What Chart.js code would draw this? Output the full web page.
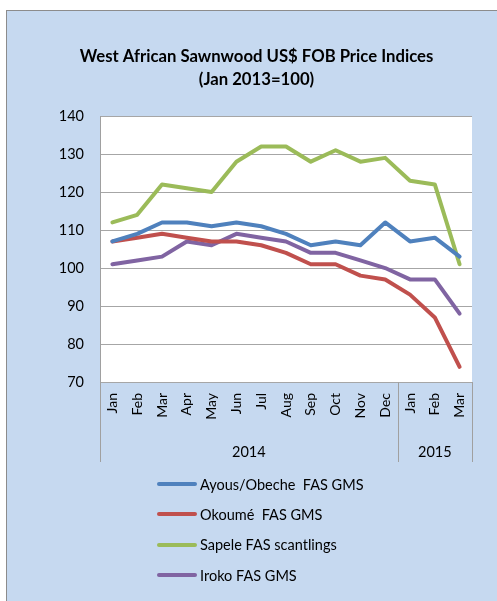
<!DOCTYPE html>
<html><head><meta charset="utf-8">
<script src="https://cdn.jsdelivr.net/npm/chart.js@4"></script>
<style>
html,body{margin:0;padding:0;background:#fff;width:497px;height:601px;overflow:hidden;}
#frame{position:absolute;left:6px;top:10px;width:491px;height:591px;background:#C6D9F0;border-left:1px solid #8c8c8c;border-top:1px solid #8c8c8c;box-sizing:border-box;}
#wrap{position:absolute;left:0;top:0;width:490px;height:590px;}
#legend{position:absolute;left:150px;top:458px;font-family:Lato,sans-serif;font-size:14.5px;color:#000;}
.item{display:flex;align-items:center;height:30.3px;white-space:pre;}
.swatch{width:40px;height:4px;margin-right:3px;border-radius:2px;}
</style></head>
<body>
<div id="frame"><div id="wrap"><canvas id="c"></canvas></div><div id="legend"></div></div>
<script>
const titleLines = ['West African Sawnwood US$ FOB Price Indices', '(Jan 2013=100)'];
const months = ['Jan','Feb','Mar','Apr','May','Jun','Jul','Aug','Sep','Oct','Nov','Dec','Jan','Feb','Mar'];
const years = ['2014','2015'];
const yearSpans = [12, 3];
const seriesNames = ['Ayous/Obeche  FAS GMS','Okoumé  FAS GMS','Sapele FAS scantlings','Iroko FAS GMS'];
const ayous  = [107,109,112,112,111,112,111,109,106,107,106,112,107,108,103];
const okoume = [107,108,109,108,107,107,106,104,101,101,98,97,93,87,74];
const sapele = [112,114,122,121,120,128,132,132,128,131,128,129,123,122,101];
const iroko  = [101,102,103,107,106,109,108,107,104,104,102,100,97,97,88];
const colors = ['#4F81BD','#C0504D','#9BBB59','#8064A2'];
const yMin = 70, yMax = 140, yStep = 10;

const seriesData = [ayous, okoume, sapele, iroko];
const yearCenters = [];
(function(){let s=0; yearSpans.forEach(n=>{yearCenters.push(s + (n-1)/2); s+=n;});})();

const bgPlugin = {id:'bg', beforeDraw(c){const a=c.chartArea, ctx=c.ctx; ctx.save(); ctx.fillStyle='#fff'; ctx.fillRect(a.left,a.top,a.right-a.left,a.bottom-a.top); ctx.restore();}};
const sepPlugin = {id:'sep', afterDraw(c){
  const x2=c.scales.x2, ctx=c.ctx; ctx.save(); ctx.strokeStyle='#a0a0a0'; ctx.lineWidth=1;
  const bounds=[-0.5]; let b=-0.5; yearSpans.forEach(n=>{b+=n; bounds.push(b);});
  bounds.forEach(v=>{const px=Math.round(x2.getPixelForValue(v))+0.5; ctx.beginPath(); ctx.moveTo(px, c.chartArea.bottom); ctx.lineTo(px, x2.bottom); ctx.stroke();});
  ctx.restore();}};

const chart = new Chart(document.getElementById('c'), {
  type:'line',
  data:{labels:months, datasets: seriesNames.map((n,i)=>({label:n, data:seriesData[i], borderColor:colors[i], backgroundColor:colors[i], borderWidth:4, pointRadius:0, tension:0, borderJoinStyle:'round', borderCapStyle:'round', xAxisID:'x', yAxisID:'y'}))},
  options:{
    responsive:true, maintainAspectRatio:false, animation:false,
    layout:{padding:{left:9,right:0,top:0,bottom:139}},
    plugins:{
      legend:{display:false}, tooltip:{enabled:false},
      title:{display:true, text:titleLines, color:'#000', font:{family:'Lato', size:16.7, weight:'bold', lineHeight:1.38}, padding:{top:34.5,bottom:24.5}}
    },
    scales:{
      x:{type:'category', offset:true, weight:0, grid:{display:false, drawTicks:false}, border:{display:false},
         ticks:{minRotation:90, maxRotation:90, autoSkip:false, padding:11, color:'#000', font:{family:'Lato', size:14}},
         afterFit(s){s.height=45;}},
      x2:{type:'linear', position:'bottom', weight:1, min:-0.5, max:14.5, grid:{display:false, drawTicks:false}, border:{display:false},
         afterBuildTicks(s){s.ticks = yearCenters.map(v=>({value:v}));},
         ticks:{maxRotation:0, autoSkip:false, padding:17, color:'#000', font:{family:'Lato', size:14.5}, callback:(v,i)=>years[i]},
         afterFit(s){s.height=35;}},
      y:{min:yMin, max:yMax, ticks:{stepSize:yStep, padding:16, color:'#000', font:{family:'Lato', size:14.5}},
         grid:{color:'#a6a6a6', drawTicks:false}, border:{display:true, color:'#a0a0a0'},
         afterFit(s){s.width=84;}},
      y2:{position:'right', display:true, min:yMin, max:yMax, grid:{display:false, drawTicks:false}, border:{display:false},
         ticks:{display:false}, afterFit(s){s.width=25;}}
    }
  },
  plugins:[bgPlugin, sepPlugin]
});

const lg = document.getElementById('legend');
chart.data.datasets.forEach(ds=>{
  const it=document.createElement('div'); it.className='item';
  const sw=document.createElement('span'); sw.className='swatch'; sw.style.background=ds.borderColor;
  const tx=document.createElement('span'); tx.textContent=ds.label;
  it.appendChild(sw); it.appendChild(tx); lg.appendChild(it);
});
</script>
</body></html>
